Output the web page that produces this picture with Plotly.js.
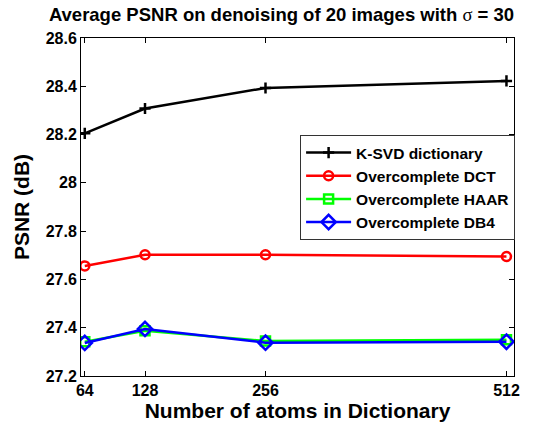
<!DOCTYPE html>
<html>
<head>
<meta charset="utf-8">
<script src="https://cdn.plot.ly/plotly-3.0.1.min.js"></script>
<style>html,body{margin:0;padding:0;background:#fff;}#chart{width:552px;height:425px;}</style>
</head>
<body>
<div id="chart"></div>
<script>
var atoms = [64, 128, 256, 512];
var ksvd = [28.205, 28.308, 28.393, 28.422];
var dct = [27.656, 27.702, 27.702, 27.695];
var haar = [27.342, 27.387, 27.345, 27.350];
var db4 = [27.337, 27.395, 27.338, 27.342];
var seriesNames = ['K-SVD dictionary', 'Overcomplete DCT', 'Overcomplete HAAR', 'Overcomplete DB4'];
var yTickVals = [27.2, 27.4, 27.6, 27.8, 28, 28.2, 28.4, 28.6];
var yTickText = ['27.2', '27.4', '27.6', '27.8', '28', '28.2', '28.4', '28.6'];
var xTickVals = [64, 128, 256, 512];
var xTickText = ['64', '128', '256', '512'];

var F = 'Liberation Sans, Arial, sans-serif';

var traces = [
  {x: atoms, y: ksvd, name: seriesNames[0], mode: 'lines+markers',
   line: {color: '#000000', width: 2.5},
   marker: {symbol: 'cross-thin-open', size: 8, color: '#000000', line: {color: '#000000', width: 2.5}}},
  {x: atoms, y: dct, name: seriesNames[1], mode: 'lines+markers',
   line: {color: '#ff0000', width: 2.5},
   marker: {symbol: 'circle-open', size: 9, color: '#ff0000', line: {color: '#ff0000', width: 2.5}}},
  {x: atoms, y: haar, name: seriesNames[2], mode: 'lines+markers',
   line: {color: '#00ff00', width: 2.5},
   marker: {symbol: 'square-open', size: 9, color: '#00ff00', line: {color: '#00ff00', width: 2.5}}},
  {x: atoms, y: db4, name: seriesNames[3], mode: 'lines+markers',
   line: {color: '#0000ff', width: 2.5},
   marker: {symbol: 'diamond-open', size: 11, color: '#0000ff', line: {color: '#0000ff', width: 2.5}}}
];

var layout = {
  width: 552, height: 425,
  paper_bgcolor: '#ffffff', plot_bgcolor: '#ffffff',
  margin: {l: 81, r: 38, t: 38, b: 49},
  font: {family: F, color: '#000000'},
  title: {
    text: '<b>Average PSNR on denoising of 20 images with </b><span style="font-family:Liberation Serif,Times New Roman,serif;font-weight:normal">σ</span><b> = 30</b>',
    font: {family: F, size: 18.5, color: '#000000'},
    x: 0.51, xanchor: 'center', y: 0.965, yanchor: 'middle'
  },
  xaxis: {
    range: [60, 520], tickvals: xTickVals, ticktext: xTickText,
    ticks: 'inside', ticklen: 5, tickcolor: '#000', mirror: 'ticks',
    showline: true, linecolor: '#000', linewidth: 1, showgrid: false, zeroline: false,
    tickfont: {family: F, size: 16, color: '#000', weight: 'bold'},
    title: {text: '<b>Number of atoms in Dictionary</b>', font: {family: F, size: 21, color: '#000'}, standoff: 4}
  },
  yaxis: {
    range: [27.2, 28.6], tickvals: yTickVals, ticktext: yTickText,
    ticks: 'inside', ticklen: 5, tickcolor: '#000', mirror: 'ticks',
    showline: true, linecolor: '#000', linewidth: 1, showgrid: false, zeroline: false,
    tickfont: {family: F, size: 16, color: '#000', weight: 'bold'},
    title: {text: '<b>PSNR (dB)</b>', font: {family: F, size: 21, color: '#000'}, standoff: 10}
  },
  legend: {
    x: 0.506, y: 0.713, xanchor: 'left', yanchor: 'top',
    bgcolor: '#ffffff', bordercolor: '#333333', borderwidth: 1,
    font: {family: F, size: 15.5, color: '#000', weight: 'bold'},
    itemwidth: 45,
    tracegroupgap: 0
  },
  showlegend: true
};

Plotly.newPlot('chart', traces, layout, {staticPlot: true, displayModeBar: false});
</script>
</body>
</html>
